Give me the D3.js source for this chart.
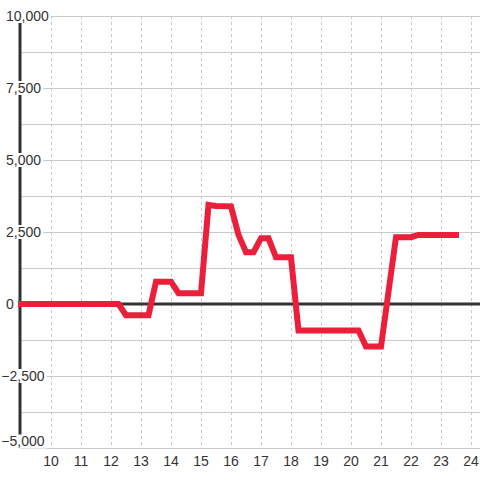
<!DOCTYPE html>
<html><head><meta charset="utf-8">
<script src="https://cdn.jsdelivr.net/npm/d3@7"></script>
<style>
html,body{margin:0;padding:0;background:#fff;}
svg{display:block;font-family:"Liberation Sans",Arial,sans-serif;}
</style></head>
<body>
<svg id="chart" width="480" height="480"></svg>
<script>
const times  = [9, 12.25, 12.5, 13.25, 13.5, 14, 14.25, 15, 15.25, 15.5, 16, 16.25, 16.5, 16.75, 17, 17.25, 17.5, 18, 18.25, 20.25, 20.5, 21, 21.5, 22, 22.25, 23.5];
const values = [0, 0, -390, -390, 775, 775, 375, 375, 3440, 3400, 3390, 2400, 1800, 1800, 2280, 2280, 1620, 1620, -920, -920, -1480, -1480, 2320, 2320, 2400, 2400];
const xTicks = [10,11,12,13,14,15,16,17,18,19,20,21,22,23,24];
const yLabelTicks = [10000, 7500, 5000, 2500, 0, -2500, -5000];
const yGridTicks = [10000, 8750, 7500, 6250, 5000, 3750, 2500, 1250, 0, -1250, -2500, -3750, -5000];

const svg = d3.select("#chart");
const x = d3.scaleLinear().domain([10, 24]).range([51, 471]);
const y = d3.scaleLinear().domain([-5000, 10000]).range([448, 16]);
const fmt = d3.format(",");

// horizontal grid
svg.append("g").selectAll("line").data(yGridTicks).join("line")
  .attr("x1", 20).attr("x2", 480)
  .attr("y1", d => y(d) + 0.5).attr("y2", d => y(d) + 0.5)
  .attr("stroke", "#c8c8c8").attr("stroke-width", 1);

// vertical dashed grid
svg.append("g").selectAll("line").data(xTicks).join("line")
  .attr("x1", d => Math.round(x(d)) + 0.5).attr("x2", d => Math.round(x(d)) + 0.5)
  .attr("y1", y(10000)).attr("y2", y(-5000))
  .attr("stroke", "#c8c8c8").attr("stroke-width", 1).attr("stroke-dasharray", "3,3");

// y axis thick line
svg.append("line").attr("x1", 20).attr("x2", 20)
  .attr("y1", y(10000)).attr("y2", y(-5000))
  .attr("stroke", "#333").attr("stroke-width", 3);

// zero line
svg.append("line").attr("x1", 20).attr("x2", 480)
  .attr("y1", y(0)).attr("y2", y(0))
  .attr("stroke", "#333").attr("stroke-width", 3);

// data line
const pts = times.map((t, i) => [t, values[i]]);
svg.append("path").datum(pts)
  .attr("d", d3.line().x(d => x(d[0])).y(d => y(d[1])))
  .attr("fill", "none").attr("stroke", "#ec1f3a").attr("stroke-width", 6)
  .attr("stroke-linejoin", "miter").attr("stroke-linecap", "square");

// y labels with white background
const yl = svg.append("g");
yLabelTicks.forEach(v => {
  const g = yl.append("g");
  const cy = v === -5000 ? y(v) - 6.5 : y(v);
  const t = g.append("text").text(fmt(v))
    .attr("x", 6).attr("y", cy).attr("dy", "0.35em")
    .attr("font-size", 14).attr("fill", "#333");
  if (v < 0) t.attr("x", 6 - 4.66);
  const b = t.node().getBBox();
  g.insert("rect", "text").attr("x", b.x - 1).attr("y", cy - 7).attr("width", b.width + 3).attr("height", 14)
    .attr("fill", "#fff");
});

// x labels
svg.append("g").selectAll("text").data(xTicks).join("text")
  .attr("x", d => x(d)).attr("y", 461).attr("dy", "0.35em")
  .attr("text-anchor", "middle").attr("font-size", 14).attr("fill", "#333")
  .text(d => d);
</script>
</body></html>
